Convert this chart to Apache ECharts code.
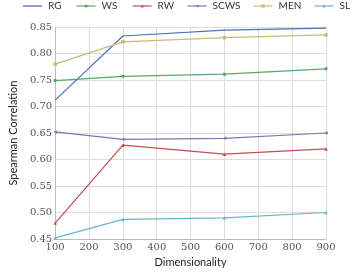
<!DOCTYPE html>
<html><head><meta charset="utf-8">
<script src="https://cdn.jsdelivr.net/npm/echarts@6/dist/echarts.min.js"></script>
<style>html,body{margin:0;padding:0;background:#fff}#c{width:363px;height:273px}</style>
</head><body><div id="c"></div>
<script>
const dims = [100, 300, 600, 900];
const seriesNames = ['RG', 'WS', 'RW', 'SCWS', 'MEN', 'SL'];
const RG = [0.712, 0.833, 0.844, 0.848];
const WS = [0.749, 0.757, 0.761, 0.771];
const RW = [0.480, 0.627, 0.610, 0.620];
const SCWS = [0.652, 0.638, 0.640, 0.650];
const MEN = [0.780, 0.822, 0.830, 0.835];
const SL = [0.452, 0.487, 0.490, 0.500];
const xTicks = [100, 200, 300, 400, 500, 600, 700, 800, 900];
const yTicks = [0.45, 0.50, 0.55, 0.60, 0.65, 0.70, 0.75, 0.80, 0.85];

const values = [RG, WS, RW, SCWS, MEN, SL];
const colors = ['#4C72B0', '#55A868', '#C44E52', '#8172B2', '#CCB974', '#64B5CD'];
const symbols = ['none', 'circle', 'triangle', 'path://M0,5L10,0L10,10Z', 'rect', 'triangle'];
const legendLeft = [23, 76, 132, 187, 253, 314];
const serif = 'DejaVu Serif';
const tickRich = {t: {fontFamily: serif, fontSize: 10, color: '#555'}};

const chart = echarts.init(document.getElementById('c'));
chart.setOption({
  animation: false,
  backgroundColor: '#fff',
  textStyle: {fontFamily: serif},
  legend: seriesNames.map((n, i) => ({
    data: [n], left: legendLeft[i], top: 1, itemWidth: 19, itemHeight: i === 0 ? 1.3 : 4, itemGap: 0,
    icon: i === 0 ? 'rect' : undefined,
    itemStyle: {color: colors[i], borderWidth: 0},
    lineStyle: {color: colors[i], width: 1.2},
    textStyle: {fontFamily: 'Lato', fontSize: 10, color: '#333', padding: [0, 0, 0, 1]},
    padding: [0, 0, 0, 0]
  })),
  grid: {left: 46, right: 37, top: 27, bottom: 28},
  xAxis: {
    type: 'value', min: 100, max: 900, interval: 100,
    name: 'Dimensionality', nameLocation: 'middle', nameGap: 18,
    nameTextStyle: {fontFamily: 'Lato', fontSize: 11, color: '#222'},
    axisLine: {lineStyle: {color: '#bbb'}}, axisTick: {show: false},
    axisLabel: {fontFamily: serif, fontSize: 10, color: '#555', margin: 3, rich: tickRich,
      formatter: v => xTicks.includes(v) ? '{t|' + v + '}' : ''},
    splitLine: {show: true, lineStyle: {color: '#ddd'}}
  },
  yAxis: {
    type: 'value', min: 0.45, max: 0.85, interval: 0.05,
    name: 'Spearman Correlation', nameLocation: 'middle', nameGap: 33,
    nameTextStyle: {fontFamily: 'Lato', fontSize: 11, color: '#222'},
    axisLine: {show: true, lineStyle: {color: '#bbb'}}, axisTick: {show: false},
    axisLabel: {fontFamily: serif, fontSize: 10, color: '#555', margin: 3, rich: tickRich,
      formatter: v => { const t = yTicks.find(y => Math.abs(y - v) < 1e-6); return t !== undefined ? '{t|' + t.toFixed(2) + '}' : ''; }},
    splitLine: {show: true, lineStyle: {color: '#ddd'}}
  },
  series: seriesNames.map((n, i) => ({
    name: n, type: 'line',
    data: dims.map((d, j) => [d, values[i][j]]),
    symbol: symbols[i], symbolSize: 3.5, showSymbol: true,
    lineStyle: {color: colors[i], width: 1.2},
    itemStyle: {color: colors[i]},
    z: 2
  }))
});
</script></body></html>
